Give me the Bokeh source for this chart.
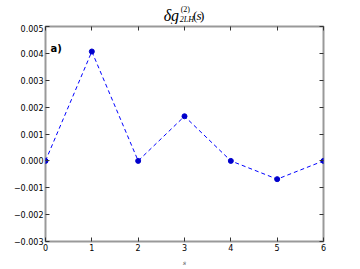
from bokeh.plotting import figure
from bokeh.models import LinearAxis, FixedTicker, Label, Range1d
from bokeh.layouts import column
from bokeh.embed import file_html
from bokeh.resources import INLINE

s_vals = [0, 1, 2, 3, 4, 5, 6]
dg_vals = [0.0, 0.00407, 0.0, 0.00166, 0.0, -0.00068, 0.0]
x_ticks = [0, 1, 2, 3, 4, 5, 6]
y_ticks = [-0.003, -0.002, -0.001, 0.0, 0.001, 0.002, 0.003, 0.004, 0.005]
y_tick_labels = ["\u22120.003", "\u22120.002", "\u22120.001", "0.000", "0.001",
                 "0.002", "0.003", "0.004", "0.005"]
title_parts = ["\u03b4g", "(2)", "2LH", "(", "s", ")"]

# ---- title strip ----
TH = 24
t = figure(width=360, height=TH, output_backend="svg", toolbar_location=None,
           x_range=Range1d(0, 360), y_range=Range1d(TH, 0),
           min_border_left=0, min_border_right=0, min_border_top=0, min_border_bottom=0,
           x_axis_location=None, y_axis_location=None)
t.grid.visible = False
t.outline_line_color = None
t.border_fill_color = "white"

SERIF = "Liberation Serif"
def tl(text, x, y, size, style="italic"):
    t.add_layout(Label(x=x, y=y, text=text, text_font=SERIF, text_font_size=size,
                       text_font_style=style, text_baseline="alphabetic",
                       text_color="black"))

tl(title_parts[0], 153, 15, "16px")
tl(title_parts[1], 175, 8.5, "8px", style="normal")
tl(title_parts[2], 174, 18.5, "8px")
tl(title_parts[3], 191, 15, "13px", style="normal")
tl(title_parts[4], 195.5, 15, "13px")
tl(title_parts[5], 200, 15, "13px", style="normal")

# ---- main plot ----
p = figure(width=360, height=269 - TH, output_backend="svg",
           toolbar_location=None, x_range=Range1d(0, 6), y_range=Range1d(-0.003, 0.005),
           min_border_left=45, min_border_right=37, min_border_top=26 - TH, min_border_bottom=28,
           x_axis_location=None, y_axis_location=None)
p.grid.visible = False
p.outline_line_color = "#999999"
p.outline_line_width = 2
p.background_fill_color = "white"
p.border_fill_color = "white"

FONT = "DejaVu Sans"

def style(ax, labels=True):
    ax.axis_line_color = None
    ax.major_tick_in = 4
    ax.major_tick_out = 0
    ax.minor_tick_line_color = None
    ax.major_tick_line_color = "#333333"
    ax.major_label_text_font = FONT
    ax.major_label_text_color = "black"
    ax.major_label_text_font_size = "8px"
    ax.major_label_standoff = 2 if labels else 0

xb = LinearAxis(ticker=FixedTicker(ticks=x_ticks))
style(xb)
xb.axis_label = "s"
xb.axis_label_text_font_size = "6px"
xb.axis_label_text_font_style = "italic"
xb.axis_label_text_font = "DejaVu Serif"
xb.axis_label_standoff = 5
p.add_layout(xb, "below")

yl = LinearAxis(ticker=FixedTicker(ticks=y_ticks))
style(yl)
yl.major_label_overrides = {tk: lb for tk, lb in zip(y_ticks, y_tick_labels)}
p.add_layout(yl, "left")

xt = LinearAxis(ticker=FixedTicker(ticks=x_ticks))
style(xt, labels=False)
xt.major_label_overrides = {tk: "" for tk in x_ticks}
p.add_layout(xt, "above")

yr = LinearAxis(ticker=FixedTicker(ticks=y_ticks))
style(yr, labels=False)
yr.major_label_overrides = {tk: "" for tk in y_ticks}
p.add_layout(yr, "right")

p.line(s_vals, dg_vals, line_color="#0000ff", line_width=1, line_dash="4 3")
p.scatter(s_vals, dg_vals, size=5, fill_color="#0000cc", line_color="#0000cc")

p.add_layout(Label(x=0, y=0.005, x_offset=5, y_offset=-22, text="a)",
                   text_font=FONT, text_font_size="10px", text_font_style="bold",
                   text_baseline="alphabetic", text_color="black"))

layout = column(t, p, spacing=0)
open("out.html", "w").write(file_html(layout, INLINE))
